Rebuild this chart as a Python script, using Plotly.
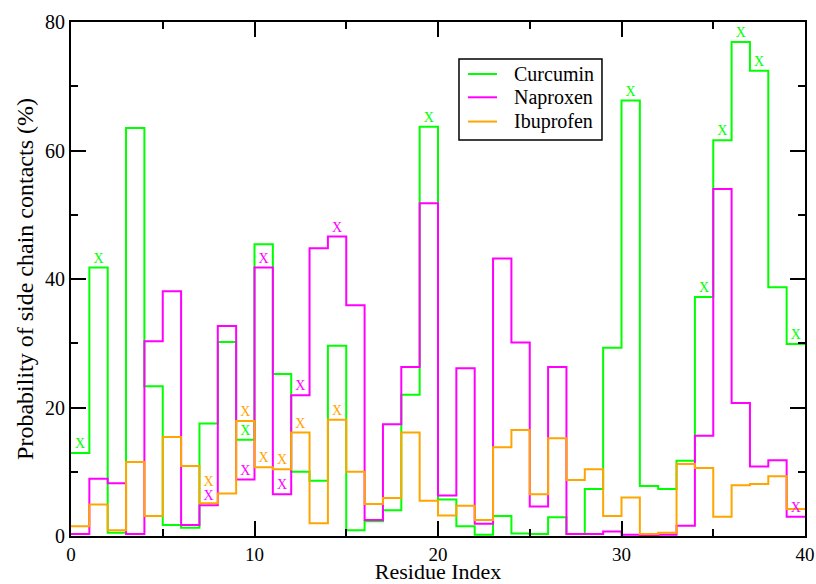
import plotly.graph_objects as go

# ---- data ----
residue_edges = list(range(41))  # bin edges 0..40, one bin per residue

curcumin = [12.9, 41.8, 0.5, 63.5, 23.3, 1.7, 1.3, 17.5, 30.2, 15.0,
            45.4, 25.2, 10.0, 8.6, 29.6, 0.9, 2.3, 4.0, 22.0, 63.7,
            5.7, 1.5, 0.2, 3.1, 0.4, 0.3, 2.9, 0.3, 7.3, 29.3,
            67.8, 7.8, 7.3, 11.7, 37.2, 61.6, 76.9, 72.4, 38.7, 29.9]
naproxen = [0.3, 8.9, 8.2, 0.3, 30.3, 38.1, 1.7, 4.8, 32.7, 8.8,
            41.8, 6.5, 21.9, 44.8, 46.6, 35.9, 2.5, 17.4, 26.3, 51.8,
            6.3, 26.1, 1.9, 43.2, 30.1, 4.6, 26.3, 0.3, 0.3, 0.7,
            0.2, 0.1, 0.2, 1.6, 15.6, 54.0, 20.7, 10.8, 11.8, 3.0]
ibuprofen = [1.5, 4.9, 0.9, 11.5, 3.1, 15.4, 10.9, 5.1, 6.6, 17.9,
             10.7, 10.4, 16.1, 2.0, 18.1, 10.0, 5.0, 5.9, 16.1, 5.5,
             3.2, 4.7, 2.5, 13.8, 16.5, 6.5, 15.2, 8.7, 10.4, 3.1,
             6.0, 0.3, 0.5, 11.2, 10.6, 3.0, 7.9, 8.1, 9.3, 4.2]

curcumin_marked = [0, 1, 9, 19, 30, 34, 35, 36, 37, 39]
naproxen_marked = [7, 9, 10, 11, 12, 14, 39]
ibuprofen_marked = [7, 9, 10, 11, 12, 14]

names = ["Curcumin", "Naproxen", "Ibuprofen"]
colors = ["#00ff00", "#ff00ff", "#ffa500"]

FONT = "Liberation Serif"
LABEL_LIFT = 1.3  # marker glyph sits just above the step

fig = go.Figure()

series = [curcumin, naproxen, ibuprofen]
marked = [curcumin_marked, naproxen_marked, ibuprofen_marked]

for vals, name, col in zip(series, names, colors):
    fig.add_trace(go.Scatter(
        x=residue_edges, y=vals + [vals[-1]],
        mode="lines", line=dict(color=col, width=2, shape="hv"),
        name=name, hoverinfo="skip", showlegend=False))

for idx, (vals, marks, col) in enumerate(zip(series, marked, colors)):
    ys = []
    for b in marks:
        y = vals[b] + LABEL_LIFT
        # avoid overlapping a label of an earlier series in the same bin
        for j in range(idx):
            if b in marked[j] and abs(series[j][b] + LABEL_LIFT - y) < 2.0:
                y = series[j][b] + LABEL_LIFT + 2.2
        ys.append(y)
    fig.add_trace(go.Scatter(
        x=[b + 0.5 for b in marks], y=ys, mode="text", text=["X"] * len(marks),
        textposition="middle center",
        textfont=dict(family=FONT, size=14, color=col),
        showlegend=False, hoverinfo="skip"))

axis_common = dict(
    showline=True, linecolor="black", linewidth=2, mirror="allticks",
    ticks="inside", ticklen=15, tickwidth=2, tickcolor="black",
    showgrid=False, zeroline=False,
)

fig.update_xaxes(range=[0, 40], dtick=10, tick0=0,
                 tickfont=dict(family=FONT, size=19, color="black"),
                 minor=dict(dtick=5, ticks="inside", ticklen=7, tickwidth=2, tickcolor="black", showgrid=False),
                 title=dict(text="Residue Index", font=dict(family=FONT, size=22, color="black"), standoff=5),
                 **axis_common)
fig.update_yaxes(range=[0, 80], dtick=20, tick0=0,
                 tickfont=dict(family=FONT, size=20, color="black"),
                 minor=dict(dtick=10, ticks="inside", ticklen=7, tickwidth=2, tickcolor="black", showgrid=False),
                 title=dict(text="Probability of side chain contacts (%)", font=dict(family=FONT, size=24, color="black"), standoff=5),
                 **axis_common)

# legend drawn as a framed box (paper coordinates of the plot area)
shapes = [dict(type="rect", xref="paper", yref="paper", x0=0.5286, x1=0.7234, y0=0.7704, y1=0.928,
               line=dict(color="black", width=1.5), fillcolor="white", layer="above")]
annotations = []
row_y = [0.8988, 0.8535, 0.8063]
for name, col, ry in zip(names, colors, row_y):
    shapes.append(dict(type="line", xref="paper", yref="paper", x0=0.5409, x1=0.5804, y0=ry, y1=ry,
                       line=dict(color=col, width=2), layer="above"))
    annotations.append(dict(text=name, xref="paper", yref="paper", x=0.6008, y=ry,
                            xanchor="left", yanchor="middle", showarrow=False,
                            font=dict(family=FONT, size=20, color="black")))

fig.update_layout(
    width=816, height=584,
    margin=dict(l=71, r=11, t=22, b=48, autoexpand=False),
    paper_bgcolor="white", plot_bgcolor="white",
    font=dict(family=FONT, color="black"),
    shapes=shapes, annotations=annotations,
    showlegend=False,
)

fig.write_html("out.html")
